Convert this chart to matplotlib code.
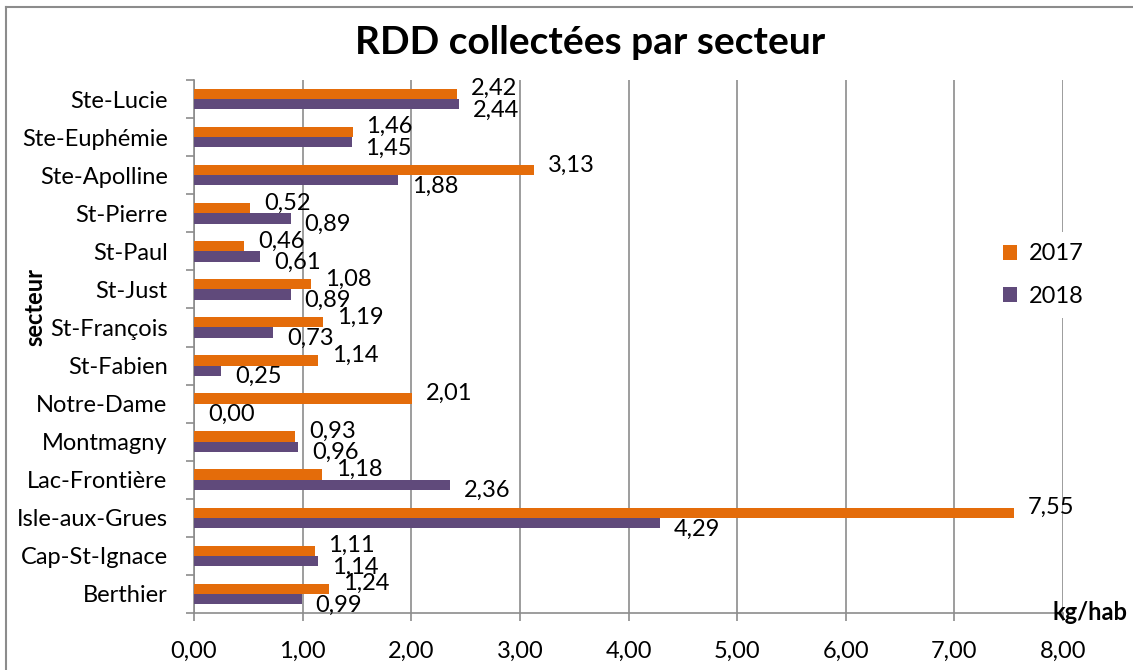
import matplotlib.pyplot as plt
import numpy as np

plt.rcParams['font.family'] = ['Lato', 'DejaVu Sans']

# Data (top to bottom as in the chart)
secteurs = ["Ste-Lucie", "Ste-Euphémie", "Ste-Apolline", "St-Pierre", "St-Paul",
            "St-Just", "St-François", "St-Fabien", "Notre-Dame", "Montmagny",
            "Lac-Frontière", "Isle-aux-Grues", "Cap-St-Ignace", "Berthier"]
val_2017 = [2.42, 1.46, 3.13, 0.52, 0.46, 1.08, 1.19, 1.14, 2.01, 0.93, 1.18, 7.55, 1.11, 1.24]
val_2018 = [2.44, 1.45, 1.88, 0.89, 0.61, 0.89, 0.73, 0.25, 0.00, 0.96, 2.36, 4.29, 1.14, 0.99]
x_ticks = [0, 1, 2, 3, 4, 5, 6, 7, 8]

orange = "#E46C0A"
violet = "#604A7B"
gris = "#8C8C8C"
fs = 17

fig = plt.figure(figsize=(11.33, 6.70), dpi=100)
ax = fig.add_axes([194 / 1133, 1 - 613 / 670, (1063 - 194) / 1133, (613 - 80) / 670])

y = np.arange(len(secteurs))
h = 0.27
ax.barh(y - h / 2, val_2017, height=h, color=orange, label="2017", zorder=3)
ax.barh(y + h / 2, val_2018, height=h, color=violet, label="2018", zorder=3)

# value labels, comma decimal
for i, (a, b) in enumerate(zip(val_2017, val_2018)):
    ax.annotate(f"{a:.2f}".replace(".", ","), xy=(a, i - 0.27), xytext=(10, 0),
                textcoords="offset points", va="center", ha="left", fontsize=fs, zorder=4)
    ax.annotate(f"{b:.2f}".replace(".", ","), xy=(b, i + 0.29), xytext=(10, 0),
                textcoords="offset points", va="center", ha="left", fontsize=fs, zorder=4)

ax.set_ylim(len(secteurs) - 0.5, -0.5)
ax.set_xlim(0, 8)
ax.set_yticks(y)
ax.set_yticklabels(secteurs, fontsize=fs)
ax.set_yticks(np.arange(len(secteurs) + 1) - 0.5, minor=True)
ax.set_xticks(x_ticks)
ax.set_xticklabels([f"{v:.2f}".replace(".", ",") for v in x_ticks], fontsize=fs)

ax.tick_params(axis="y", which="major", length=0, pad=19)
ax.tick_params(axis="y", which="minor", length=6, width=1.2, color=gris, direction="out")
ax.tick_params(axis="x", length=6, width=1.2, color=gris, pad=14)

ax.grid(axis="x", color=gris, linewidth=1.2, zorder=0)
ax.set_axisbelow(True)
for s in ["top", "right"]:
    ax.spines[s].set_visible(False)
for s in ["left", "bottom"]:
    ax.spines[s].set_color(gris)
    ax.spines[s].set_linewidth(1.2)

leg = ax.legend(loc="center", bbox_to_anchor=((1043 - 194) / 869, (613 - 275) / 533),
                fontsize=fs, frameon=True, handlelength=0.6, handleheight=0.6,
                handletextpad=0.5, labelspacing=0.9, borderpad=0.5)
leg.get_frame().set_facecolor("white")
leg.get_frame().set_edgecolor("none")
leg.get_frame().set_alpha(1)

fig.text(590 / 1133, 1 - 42 / 670, "RDD collectées par secteur", fontsize=28,
         fontweight="bold", ha="center", va="center")
fig.text(35 / 1133, 1 - 307 / 670, "secteur", fontsize=fs, fontweight="bold",
         rotation=90, ha="center", va="center")
fig.text(1052 / 1133, 1 - 620 / 670, "kg/hab", fontsize=fs, fontweight="bold",
         ha="left", va="baseline")

# outer chart border (cut at right and bottom)
fig.add_artist(plt.Line2D([6 / 1133, 6 / 1133], [0, 1 - 7 / 670], color=gris, lw=1.5))
fig.add_artist(plt.Line2D([6 / 1133, 1], [1 - 7 / 670, 1 - 7 / 670], color=gris, lw=1.5))

fig.savefig("out.png", dpi=100)
